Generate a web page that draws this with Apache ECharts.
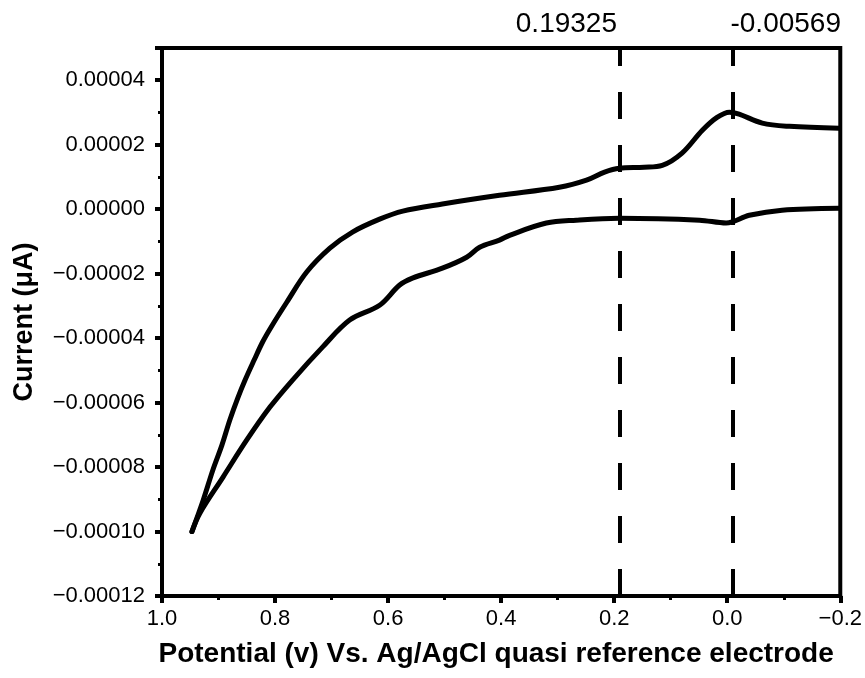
<!DOCTYPE html>
<html>
<head>
<meta charset="utf-8">
<script src="https://cdn.jsdelivr.net/npm/echarts@6/dist/echarts.min.js"></script>
<style>html,body{margin:0;padding:0;background:#fff}#c{width:865px;height:678px}</style>
</head>
<body>
<div id="c"></div>
<script>
// Upper branch : potential (V), current
const upperPotential = [0.947, 0.927, 0.910, 0.894, 0.880, 0.866, 0.853, 0.837, 0.822, 0.806, 0.779, 0.744, 0.703, 0.663, 0.615, 0.574, 0.504, 0.403, 0.297, 0.249, 0.217, 0.191, 0.147, 0.115, 0.080, 0.044, 0.018, -0.004, -0.021, -0.062, -0.110, -0.198];
const upperCurrent = [-1.0e-4, -9.02e-5, -8.09e-5, -7.32e-5, -6.54e-5, -5.86e-5, -5.30e-5, -4.68e-5, -4.12e-5, -3.63e-5, -2.88e-5, -1.95e-5, -1.21e-5, -7.1e-6, -3.1e-6, -6e-7, 1.6e-6, 4.3e-6, 6.8e-6, 9.0e-6, 1.15e-5, 1.27e-5, 1.30e-5, 1.36e-5, 1.74e-5, 2.45e-5, 2.85e-5, 3.01e-5, 2.95e-5, 2.67e-5, 2.57e-5, 2.51e-5];
// Lower branch
const lowerPotential = [0.947, 0.933, 0.892, 0.850, 0.809, 0.769, 0.716, 0.668, 0.615, 0.580, 0.557, 0.504, 0.461, 0.438, 0.403, 0.385, 0.320, 0.267, 0.191, 0.049, 0.002, -0.039, -0.097, -0.198];
const lowerCurrent = [-1.0e-4, -9.43e-5, -8.31e-5, -7.16e-5, -6.14e-5, -5.30e-5, -4.28e-5, -3.44e-5, -2.98e-5, -2.36e-5, -2.14e-5, -1.83e-5, -1.49e-5, -1.18e-5, -9.6e-6, -8.1e-6, -4.3e-6, -3.4e-6, -2.8e-6, -3.4e-6, -4.3e-6, -1.9e-6, -3e-7, 3e-7];
// Marked peak potentials
const markPotentials = [0.19325, -0.00569];
const markLabels = ['0.19325', '-0.00569'];

const FONT = '"Liberation Sans", Arial, sans-serif';
const zip = (a, b) => a.map((v, i) => [v, b[i]]);
const minus = s => s.replace('-', '\u2212');

const chart = echarts.init(document.getElementById('c'), null, {renderer: 'canvas'});
const lineStyle = {color: '#000', width: 5, cap: 'round', join: 'round'};
chart.setOption({
  animation: false,
  backgroundColor: '#fff',
  grid: {left: 162, right: 24, top: 48, bottom: 82, show: true, borderColor: '#000', borderWidth: 4},
  xAxis: {
    type: 'value', inverse: true, min: -0.2, max: 1.0, interval: 0.2,
    name: 'Potential (v) Vs. Ag/AgCl quasi reference electrode',
    nameLocation: 'middle', nameGap: 44,
    nameTextStyle: {fontFamily: FONT, fontWeight: 'bold', fontSize: 28, color: '#000', padding: [0, 10, 0, 0]},
    axisLine: {onZero: false, lineStyle: {color: '#000', width: 4}},
    axisTick: {show: true, inside: false, length: 7, lineStyle: {color: '#000', width: 4}},
    minorTick: {show: true, splitNumber: 2, length: 4, lineStyle: {color: '#000', width: 3}},
    splitLine: {show: false},
    axisLabel: {fontFamily: FONT, fontSize: 22, color: '#000', margin: 12,
      formatter: v => minus(v.toFixed(1))}
  },
  yAxis: {
    type: 'value', min: -0.00012, max: 0.00005, interval: 0.00002,
    name: 'Current (\u03bcA)', nameLocation: 'middle', nameGap: 124, nameRotate: 90,
    nameTextStyle: {fontFamily: FONT, fontWeight: 'bold', fontSize: 27, color: '#000'},
    axisLine: {onZero: false, lineStyle: {color: '#000', width: 4}},
    axisTick: {show: true, inside: false, length: 7, lineStyle: {color: '#000', width: 4}},
    minorTick: {show: true, splitNumber: 2, length: 4, lineStyle: {color: '#000', width: 3}},
    splitLine: {show: false},
    axisLabel: {fontFamily: FONT, fontSize: 22, color: '#000', margin: 17,
      formatter: v => v > 0.000045 ? '' : minus(v.toFixed(5))}
  },
  series: [
    {type: 'line', data: zip(upperPotential, upperCurrent), showSymbol: false, smooth: 0.35, lineStyle,
     markLine: {silent: true, symbol: ['none', 'none'], label: {show: false},
       lineStyle: {color: '#000', width: 4, type: [27, 26]},
       data: markPotentials.map(v => ({xAxis: v}))}},
    {type: 'line', data: zip(lowerPotential, lowerCurrent), showSymbol: false, smooth: 0.35, lineStyle}
  ]
});

// Labels for the marked potentials, positioned through the chart's own scale
const px = markPotentials.map(v => chart.convertToPixel({xAxisIndex: 0}, v));
chart.setOption({
  graphic: markLabels.map((t, i) => ({
    type: 'text', x: px[i] + (i === 0 ? -1 : 0), y: 24,
    style: {text: t, fontFamily: FONT, fontSize: 28, fill: '#000',
      align: i === 0 ? 'right' : 'left', verticalAlign: 'middle'}
  }))
});
</script>
</body>
</html>
